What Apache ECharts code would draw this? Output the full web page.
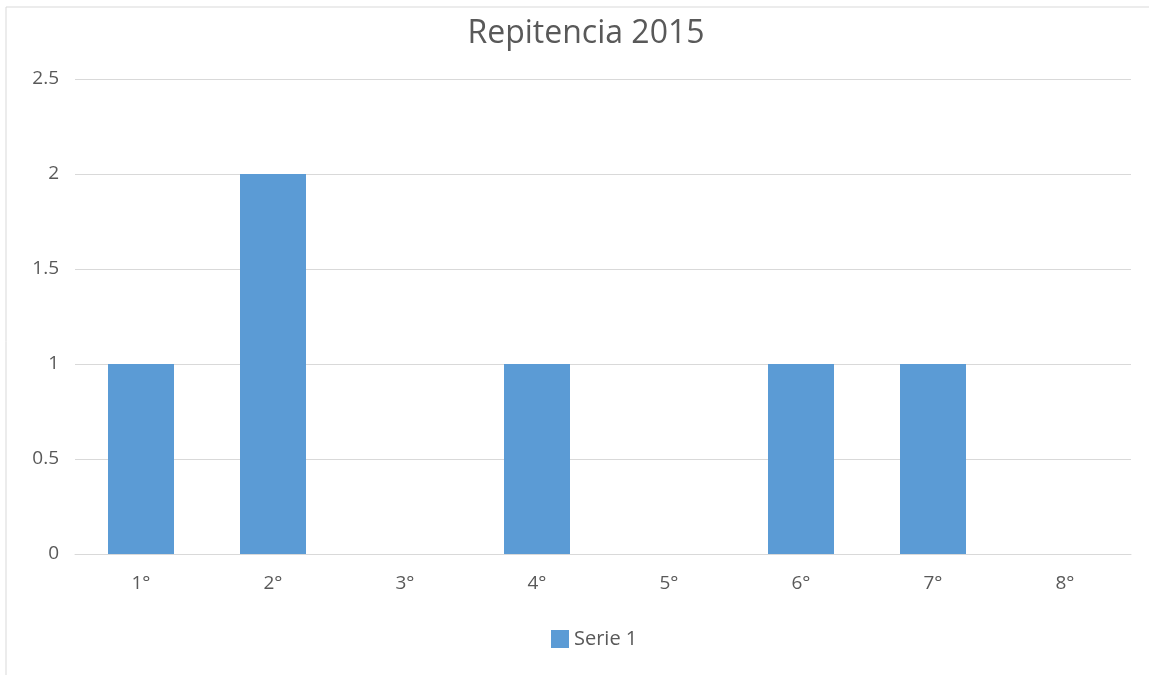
<!DOCTYPE html>
<html>
<head>
<meta charset="utf-8">
<script src="https://cdn.jsdelivr.net/npm/echarts@6/dist/echarts.min.js"></script>
<style>
    html, body { margin: 0; padding: 0; background: #fff; }
    #chart { width: 1149px; height: 675px; }
</style>
</head>
<body>
<div id="chart"></div>
<script>
var categories = ['1°', '2°', '3°', '4°', '5°', '6°', '7°', '8°'];
var serie1 = [1, 2, 0, 1, 0, 1, 1, 0];
var yTicks = [0, 0.5, 1, 1.5, 2, 2.5];

var myChart = echarts.init(document.getElementById('chart'));
var textColor = '#595959';
var font = '"Open Sans", "Liberation Sans", sans-serif';

var option = {
    animation: false,
    textStyle: { fontFamily: font },
    title: {
        text: 'Repitencia 2015',
        left: 581,
        textAlign: 'center',
        top: 13,
        textStyle: { fontSize: 32, fontWeight: 'normal', color: textColor, fontFamily: font }
    },
    // frame around the chart area
    graphic: [{
        type: 'rect',
        shape: { x: 6, y: 7, width: 1160, height: 700 },
        style: { fill: 'none', stroke: '#d9d9d9', lineWidth: 1 },
        silent: true
    }],
    legend: {
        data: ['Serie 1'],
        bottom: 21,
        left: 546,
        itemWidth: 18,
        itemHeight: 18,
        icon: 'rect',
        textStyle: { fontSize: 20, color: textColor, fontFamily: font }
    },
    grid: {
        left: 75,
        right: 18,
        top: 79,
        bottom: 121
    },
    xAxis: {
        type: 'category',
        data: categories,
        axisTick: { show: false },
        axisLine: { lineStyle: { color: '#d9d9d9', width: 1 } },
        axisLabel: { color: textColor, fontSize: 19, margin: 20, fontFamily: font }
    },
    yAxis: {
        type: 'value',
        min: yTicks[0],
        max: yTicks[yTicks.length - 1],
        interval: 0.5,
        axisLine: { show: false },
        axisTick: { show: false },
        splitLine: { lineStyle: { color: '#d9d9d9', width: 1 } },
        axisLabel: { color: textColor, fontSize: 19, margin: 16, fontFamily: font }
    },
    series: [{
        name: 'Serie 1',
        type: 'bar',
        data: serie1,
        barWidth: '50%',
        itemStyle: { color: '#5b9bd5' }
    }]
};

myChart.setOption(option);
window.onresize = function() {
    myChart.resize();
};
</script>
</body>
</html>
